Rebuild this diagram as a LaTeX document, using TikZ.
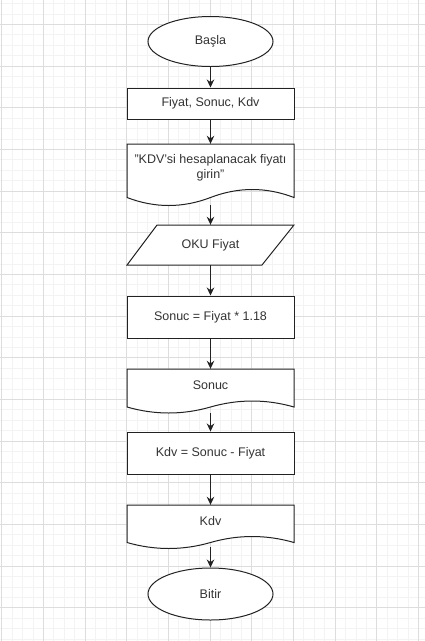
\documentclass[tikz,border=0pt]{standalone}
\usepackage{fontspec}
\setmainfont{Liberation Sans}
\usetikzlibrary{arrows.meta,shapes.geometric}
\definecolor{gridmajor}{HTML}{DDDDDD}
\definecolor{gridminor}{HTML}{F3F3F3}
\definecolor{txt}{HTML}{333333}
\definecolor{edge}{HTML}{222222}
\tikzset{
  shp/.style={draw=edge, line width=1pt, fill=white},
  lbl/.style={text=txt, font=\fontsize{12.5}{15}\selectfont, align=center, inner sep=0pt},
  boxnode/.style={shp, lbl, rectangle, minimum width=167pt},
  ovalnode/.style={shp, lbl, ellipse, minimum width=125pt, minimum height=50pt},
  ghost/.style={lbl, rectangle, minimum width=167pt},
  arr/.style={draw=edge, line width=1pt, -{Stealth[length=8pt,width=7.5pt]}}
}
\newcommand\docshape[5]{%
  \pgfmathsetmacro\dxa{#2-(#2-#1)/6}%
  \pgfmathsetmacro\dxb{#2-(#2-#1)/3}%
  \pgfmathsetmacro\dxc{#1+(#2-#1)/3}%
  \pgfmathsetmacro\dxd{#1+(#2-#1)/6}%
  \pgfmathsetmacro\mx{(#1+#2)/2}%
  \pgfmathsetmacro\yu{#4-4*#5/3}%
  \pgfmathsetmacro\yd{#4+4*#5/3}%
  \draw[shp] (#1,#3) -- (#2,#3) -- (#2,#4) .. controls (\dxa,\yu) and (\dxb,\yu) .. (\mx,#4)
    .. controls (\dxc,\yd) and (\dxd,\yd) .. (#1,#4) -- cycle;}
\begin{document}
\begin{tikzpicture}[x=1pt,y=-1pt]
\useasboundingbox (0,0) rectangle (425,641);
\fill[white] (0,0) rectangle (425,641);
% grid
\foreach \k in {-1,...,40}{
  \pgfmathsetmacro\gx{1.7+10.4167*\k}
  \draw[gridminor, line width=0.6pt] (\gx,0) -- (\gx,641);}
\foreach \k in {-3,...,62}{
  \pgfmathsetmacro\gy{24.3+10.4167*\k}
  \draw[gridminor, line width=0.6pt] (0,\gy) -- (425,\gy);}
\foreach \k in {0,...,10}{
  \pgfmathsetmacro\gx{1.7+41.667*\k}
  \draw[gridmajor, line width=0.7pt] (\gx,0) -- (\gx,641);}
\foreach \k in {-1,...,15}{
  \pgfmathsetmacro\gy{24.3+41.667*\k}
  \draw[gridmajor, line width=0.7pt] (0,\gy) -- (425,\gy);}

% shapes
\node[ovalnode] (start) at (210.5,41.5) {Başla};
\node[boxnode, minimum height=31pt] (vars) at (210.5,103.5) {Fiyat, Sonuc, Kdv};

\docshape{127}{294}{144}{197.5}{8}
\node[ghost, minimum height=47pt] (msg) at (210.5,167.5) {\symbol{"22}KDV\symbol{"27}si hesaplanacak fiyatı\\girin\symbol{"22}};

\draw[shp] (157,225) -- (294,225) -- (262,265) -- (127,265) -- cycle;
\node[ghost, minimum height=40pt] (read) at (210.5,245) {OKU Fiyat};

\node[boxnode, minimum height=42pt] (calc1) at (210.5,317) {Sonuc = Fiyat * 1.18};

\docshape{127}{294}{369}{407}{6}
\node[ghost, minimum height=32pt] (out1) at (210.5,385) {Sonuc};

\node[boxnode, minimum height=42pt] (calc2) at (210.5,453) {Kdv = Sonuc - Fiyat};

\docshape{127}{294}{505}{542.5}{6}
\node[ghost, minimum height=32pt] (out2) at (210.5,521) {Kdv};

\node[ovalnode, minimum height=52pt] (stop) at (210.5,594) {Bitir};

% connectors
\draw[arr] (start) -- (vars);
\draw[arr] (vars) -- (msg);
\draw[arr, shorten <=14pt] (msg) -- (read);
\draw[arr] (read) -- (calc1);
\draw[arr] (calc1) -- (out1);
\draw[arr, shorten <=12pt] (out1) -- (calc2);
\draw[arr] (calc2) -- (out2);
\draw[arr, shorten <=10pt] (out2) -- (stop);
\end{tikzpicture}
\end{document}
